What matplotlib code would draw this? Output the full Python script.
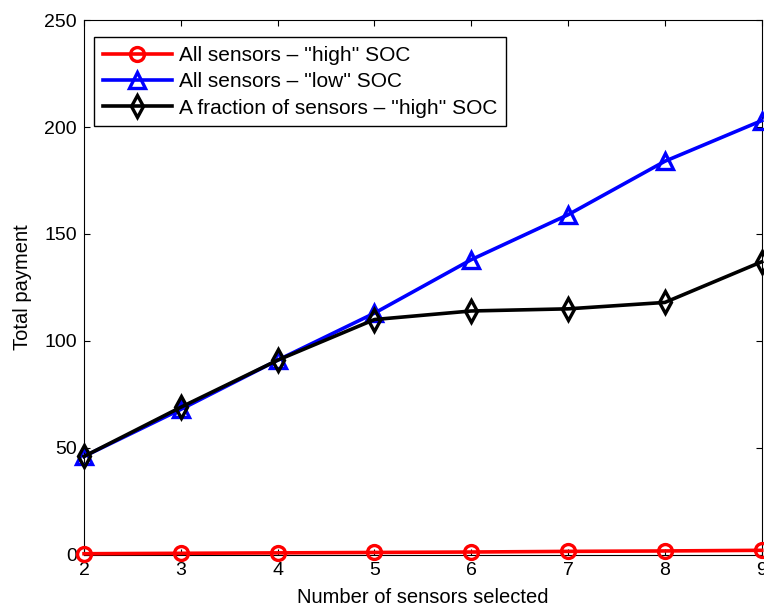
import matplotlib
matplotlib.use("Agg")
import matplotlib.pyplot as plt

plt.rcParams['font.family'] = ['Liberation Sans', 'DejaVu Sans']

# Data
n_sensors = [2, 3, 4, 5, 6, 7, 8, 9]
all_high = [0.5, 0.7, 0.9, 1.1, 1.3, 1.6, 1.8, 2.1]
all_low = [46, 68, 91, 113, 138, 159, 184, 203]
fraction_high = [46, 69, 91, 110, 114, 115, 118, 137]

labels = ["All sensors \u2013 ''high'' SOC",
          "All sensors \u2013 ''low'' SOC",
          "A fraction of sensors \u2013 ''high'' SOC"]
y_ticks = [0, 50, 100, 150, 200, 250]

fig = plt.figure(figsize=(7.64, 6.09), dpi=100)
ax = fig.add_axes([0.110, 0.089, 0.887, 0.878])

ax.plot(n_sensors, all_high, color='red', lw=2.6, marker='o', ms=10,
        mfc='none', mew=2.4, label=labels[0], clip_on=False, zorder=3)
ax.plot(n_sensors, all_low, color='blue', lw=2.6, marker='^', ms=11,
        mfc='none', mew=2.4, label=labels[1], clip_on=False, zorder=3)
ax.plot(n_sensors, fraction_high, color='black', lw=2.6, marker='d', ms=11,
        mfc='none', mew=2.4, label=labels[2], clip_on=False, zorder=4)

ax.set_xlim(2, 9)
ax.set_ylim(0, 250)
ax.set_xticks(n_sensors)
ax.set_yticks(y_ticks)
ax.tick_params(direction='in', top=True, right=True, labelsize=14, length=4.5, pad=5)
ax.set_xlabel('Number of sensors selected', fontsize=14.5)
ax.set_ylabel('Total payment', fontsize=14.5)
ax.xaxis.set_label_coords(0.5, -0.062)
ax.yaxis.set_label_coords(-0.077, 0.5)

leg = ax.legend(loc='upper left', bbox_to_anchor=(0.0147, 0.968), borderaxespad=0,
                fontsize=15, frameon=True, fancybox=False,
                edgecolor='black', framealpha=1, handlelength=3.3,
                handletextpad=0.35, labelspacing=0.35, borderpad=0.42)
leg.get_frame().set_linewidth(1.0)

fig.savefig('out.png', dpi=100)
